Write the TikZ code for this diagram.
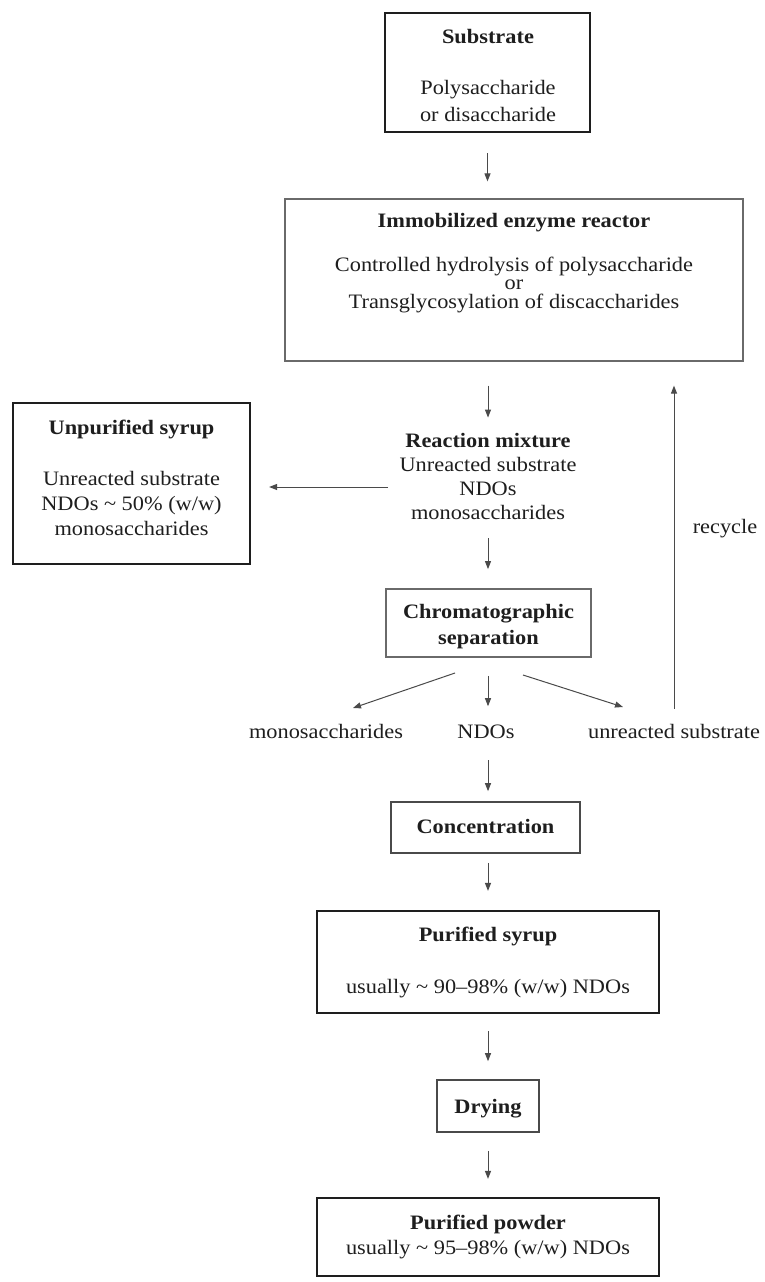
\documentclass[tikz,border=0pt]{standalone}
\usepackage{fontspec}
\setmainfont[FakeStretch=1.09]{Liberation Serif}
\usetikzlibrary{arrows.meta}
\definecolor{ink}{HTML}{1E1E1E}
\definecolor{linegray}{HTML}{4A4A4A}
\definecolor{boxgray}{HTML}{6A6A6A}
\begin{document}
\begin{tikzpicture}[x=1pt,y=-1pt,
  txt/.style={anchor=base, inner sep=0pt, text=ink, font=\fontsize{20.5}{24}\selectfont},
  ttl/.style={anchor=base, inner sep=0pt, text=ink, font=\fontsize{20.5}{24}\selectfont\bfseries},
  boxthick/.style={draw=ink, line width=2.2pt, inner sep=0pt},
  boxthin/.style={draw=boxgray, line width=1.2pt, inner sep=0pt},
  boxmid/.style={draw=linegray, line width=1.6pt, inner sep=0pt},
  arr/.style={draw=linegray, line width=1pt, -{Triangle[length=8pt,width=6pt]}}]
\useasboundingbox[fill=white] (0,0) rectangle (765,1282);

% boxes
\node[boxthick, minimum width=205pt, minimum height=119pt] (sub) at (487.5,72.5) {};
\node[boxthin, minimum width=458pt, minimum height=162pt] (reac) at (514,280) {};
\node[boxthick, minimum width=237pt, minimum height=161pt] (unp) at (131.5,483.5) {};
\node[boxthin, line width=1.8pt, minimum width=205pt, minimum height=68pt] (chrom) at (488.5,623) {};
\node[boxmid, minimum width=189pt, minimum height=51pt] (conc) at (485.5,827.5) {};
\node[boxthick, minimum width=342pt, minimum height=102pt] (psyr) at (488,962) {};
\node[boxmid, minimum width=102pt, minimum height=52pt] (dry) at (488,1106) {};
\node[boxthick, minimum width=342pt, minimum height=78pt] (ppow) at (488,1237) {};

% texts
\node[ttl] (sub1) at (488,43) {Substrate};
\node[txt] (sub2) at (488,94) {Polysaccharide};
\node[txt] (sub3) at (488,121) {or disaccharide};

\node[ttl] (reac1) at (514,227) {Immobilized enzyme reactor};
\node[txt] (reac2) at (514,271) {Controlled hydrolysis of polysaccharide};
\node[txt] (reac3) at (514,289.5) {or};
\node[txt] (reac4) at (514,308) {Transglycosylation of discaccharides};

\node[ttl] (rm1) at (488,447) {Reaction mixture};
\node[txt] (rm2) at (488,471) {Unreacted substrate};
\node[txt] (rm3) at (488,495) {NDOs};
\node[txt] (rm4) at (488,519) {monosaccharides};

\node[ttl] (unp1) at (131.5,434) {Unpurified syrup};
\node[txt] (unp2) at (131.5,485) {Unreacted substrate};
\node[txt] (unp3) at (131.5,510) {NDOs \textasciitilde{} 50\% (w/w)};
\node[txt] (unp4) at (131.5,535) {monosaccharides};

\node[ttl] (chrom1) at (488.5,618) {Chromatographic};
\node[ttl] (chrom2) at (488.5,644) {separation};

\node[txt] (mono) at (326,738) {monosaccharides};
\node[txt] (ndos) at (486,738) {NDOs};
\node[txt] (unr) at (674,738) {unreacted substrate};
\node[txt] (recyc) at (725,533) {recycle};

\node[ttl] (conc1) at (485.5,833) {Concentration};

\node[ttl] (psyr1) at (488,941) {Purified syrup};
\node[txt] (psyr2) at (488,993) {usually \textasciitilde{} 90–98\% (w/w) NDOs};

\node[ttl] (dry1) at (488,1113) {Drying};

\node[ttl] (ppow1) at (488,1229) {Purified powder};
\node[txt] (ppow2) at (488,1254) {usually \textasciitilde{} 95–98\% (w/w) NDOs};

% coordinates for free arrow ends
\coordinate (lfs) at (388,487);
\coordinate (cls) at (455,673);
\coordinate (cle) at (353,708);
\coordinate (crs) at (523,675);
\coordinate (cre) at (623,707);

% connectors
\draw[arr, shorten <=20pt, shorten >=17pt] (sub.south) -- (sub.south |- reac.north);
\draw[arr, shorten <=24pt, shorten >=15pt] (reac.south -| rm1.north) -- (rm1.north);
\draw[arr, shorten <=19pt, shorten >=19pt] (rm4.south) -- (rm4.south |- chrom.north);
\draw[arr, shorten >=18pt] (lfs) -- (lfs -| unp.east);
\draw[arr] (cls) -- (cle);
\draw[arr, shorten <=18pt, shorten >=18pt] (chrom.south -| psyr.north) -- (ndos.north -| psyr.north);
\draw[arr] (crs) -- (cre);
\draw[arr, shorten <=15pt, shorten >=24pt] (unr.north) -- (unr.north |- reac.south);
\draw[arr, shorten <=22pt, shorten >=10pt] (ndos.south -| psyr.north) -- (conc.north -| psyr.north);
\draw[arr, shorten <=9pt, shorten >=19pt] (conc.south -| psyr.north) -- (psyr.north);
\draw[arr, shorten <=17pt, shorten >=18pt] (psyr.south) -- (dry.north);
\draw[arr, shorten <=18pt, shorten >=18pt] (dry.south) -- (ppow.north);
\end{tikzpicture}
\end{document}
